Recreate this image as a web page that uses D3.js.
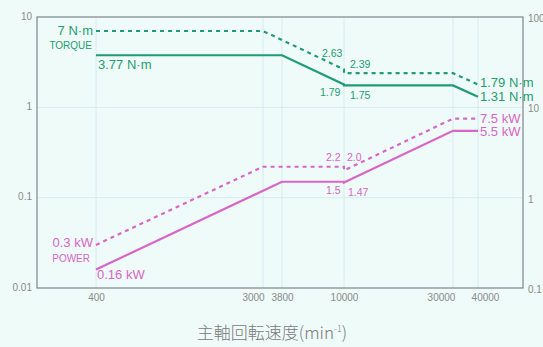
<!DOCTYPE html>
<html>
<head>
<meta charset="utf-8">
<script src="https://cdn.jsdelivr.net/npm/d3@7/dist/d3.min.js"></script>
<style>
  html, body { margin: 0; padding: 0; background: #eefbf9; }
  svg { display: block; font-family: "Liberation Sans", Arial, sans-serif; }
</style>
</head>
<body>
<svg id="chart" width="543" height="347"></svg>
<script>
// Spindle speed ticks (min^-1)
const speedTicks = [400, 3000, 3800, 10000, 30000, 40000];
// Torque ticks (N·m, left) and power ticks (kW, right)
const torqueTicks = [0.01, 0.1, 1, 10];
const powerTicks = [0.1, 1, 10, 100];

// Torque curves [speed, N·m]
const torqueShort = [[400, 7], [3000, 7], [10000, 2.63], [10000, 2.39], [30000, 2.39], [40000, 1.79]];
const torqueCont  = [[400, 3.77], [3800, 3.77], [10000, 1.79], [10000, 1.75], [30000, 1.75], [40000, 1.31]];
// Power curves [speed, kW]
const powerShort = [[400, 0.3], [3000, 2.2], [10000, 2.2], [10000, 2.0], [30000, 7.5], [40000, 7.5]];
const powerCont  = [[400, 0.16], [3800, 1.5], [10000, 1.5], [10000, 1.47], [30000, 5.5], [40000, 5.5]];

const GREEN = "#1f9c70";
const PINK = "#d865c8";
const GREY = "#8a8a8a";

const svg = d3.select("#chart");
const L = 37, R = 523, T = 17, B = 288;

// Speed axis is drawn piecewise on a log scale
const x = d3.scaleLog()
  .domain(speedTicks)
  .range([96, 263, 282, 344, 453, 478]);
const yT = d3.scaleLog().domain([0.01, 10]).range([B, T]);
const yP = d3.scaleLog().domain([0.1, 100]).range([B, T]);

// grid
const grid = svg.append("g");
grid.selectAll("line.v").data(speedTicks).join("line")
  .attr("x1", d => x(d)).attr("x2", d => x(d))
  .attr("y1", T).attr("y2", B)
  .attr("stroke", "#d6ecec").attr("stroke-width", 1);
grid.selectAll("line.h").data([0.1, 1]).join("line")
  .attr("x1", L).attr("x2", R)
  .attr("y1", d => yT(d)).attr("y2", d => yT(d))
  .attr("stroke", "#d6ecec").attr("stroke-width", 1);

// frame
svg.append("rect").attr("x", L).attr("y", T).attr("width", R - L).attr("height", B - T)
  .attr("fill", "none").attr("stroke", "#7d8585").attr("stroke-width", 1.2);

// axes
const fmt = d => String(d);
const leftAxis = svg.append("g").attr("transform", `translate(${L},0)`)
  .call(d3.axisLeft(yT).tickValues(torqueTicks).tickFormat(fmt).tickSize(0).tickPadding(5));
const rightAxis = svg.append("g").attr("transform", `translate(${R},0)`)
  .call(d3.axisRight(yP).tickValues(powerTicks).tickFormat(fmt).tickSize(0).tickPadding(5));
const bottomAxis = svg.append("g").attr("transform", `translate(0,${B})`)
  .call(d3.axisBottom(x).tickValues(speedTicks).tickFormat(fmt).tickSize(0).tickPadding(6));
[leftAxis, rightAxis, bottomAxis].forEach(g => {
  g.select(".domain").remove();
  g.selectAll("text").attr("fill", GREY).attr("font-size", 10);
});
leftAxis.selectAll("text").attr("dy", "0.2em");
rightAxis.selectAll("text").attr("dy", "0.45em");
const labelNudge = { 3000: -10, 30000: -12, 40000: 7 };
bottomAxis.selectAll("text").attr("dx", d => labelNudge[d] || 0);

// curves
const lineT = d3.line().x(d => x(d[0])).y(d => yT(d[1]));
const lineP = d3.line().x(d => x(d[0])).y(d => yP(d[1]));
const curves = [
  { data: torqueShort, gen: lineT, color: GREEN, dash: "4,4" },
  { data: torqueCont, gen: lineT, color: GREEN, dash: null },
  { data: powerShort, gen: lineP, color: PINK, dash: "4,4" },
  { data: powerCont, gen: lineP, color: PINK, dash: null },
];
curves.forEach(c => {
  svg.append("path").attr("d", c.gen(c.data))
    .attr("fill", "none").attr("stroke", c.color).attr("stroke-width", 2.2)
    .attr("stroke-dasharray", c.dash);
});

// annotations
function label(text, px, py, color, size, anchor) {
  svg.append("text").attr("x", px).attr("y", py).text(text)
    .attr("fill", color).attr("font-size", size).attr("text-anchor", anchor || "start");
}
// torque
label("7 N·m", x(400) - 3, yT(torqueShort[0][1]) + 4, GREEN, 13, "end");
label("TORQUE", x(400) - 4, yT(torqueShort[0][1]) + 18, GREEN, 10, "end");
label("3.77 N·m", x(400) + 2, yT(torqueCont[0][1]) + 14, GREEN, 13);
label("2.63", x(10000) - 22, yT(torqueShort[2][1]) - 12, GREEN, 10.5);
label("2.39", x(10000) + 6, yT(torqueShort[3][1]) - 5, GREEN, 10.5);
label("1.79", x(10000) - 24, yT(torqueCont[2][1]) + 12, GREEN, 10.5);
label("1.75", x(10000) + 6, yT(torqueCont[3][1]) + 14, GREEN, 10.5);
label("1.79 N·m", x(40000) + 2, yT(torqueShort[5][1]) + 3, GREEN, 13);
label("1.31 N·m", x(40000) + 2, yT(torqueCont[5][1]) + 4, GREEN, 13);
// power
label("7.5 kW", x(40000) + 2, yP(powerShort[5][1]) + 4, PINK, 13);
label("5.5 kW", x(40000) + 2, yP(powerCont[5][1]) + 5, PINK, 13);
label("2.2", x(10000) - 18, yP(powerShort[2][1]) - 6, PINK, 10.5);
label("2.0", x(10000) + 3, yP(powerShort[3][1]) - 9, PINK, 10.5);
label("1.5", x(10000) - 18, yP(powerCont[2][1]) + 12, PINK, 10.5);
label("1.47", x(10000) + 4, yP(powerCont[3][1]) + 13, PINK, 10.5);
label("0.3 kW", x(400) - 3, yP(powerShort[0][1]) + 2, PINK, 13, "end");
label("POWER", x(400) - 6, yP(powerShort[0][1]) + 17, PINK, 10, "end");
label("0.16 kW", x(400) + 1, yP(powerCont[0][1]) + 9, PINK, 13);

// axis title
const title = svg.append("text").attr("x", 272).attr("y", 339)
  .attr("text-anchor", "middle").attr("fill", "#7a7a7a").attr("font-size", 17)
  .attr("font-family", "'Noto Sans CJK JP', sans-serif").attr("font-weight", 300);
title.append("tspan").text("主軸回転速度(min");
title.append("tspan").text("-1").attr("font-size", 9).attr("dy", -7);
title.append("tspan").text(")").attr("dy", 7);
</script>
</body>
</html>
